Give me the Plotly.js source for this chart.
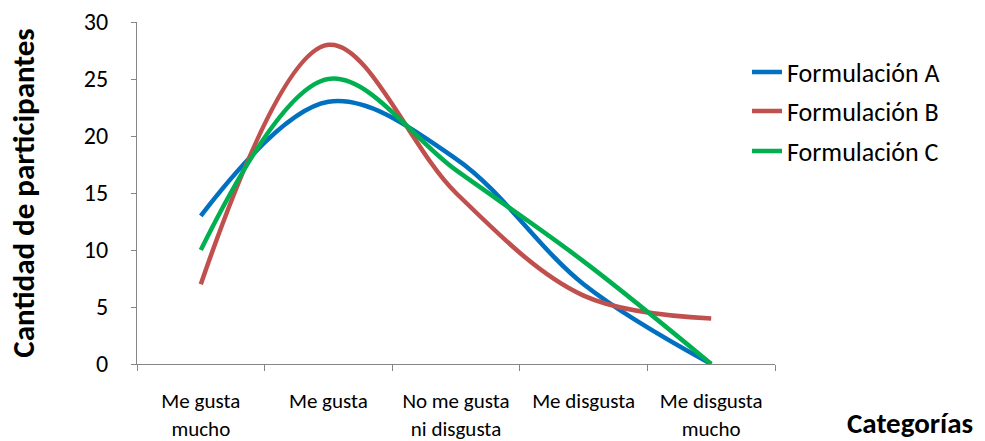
<!DOCTYPE html>
<html>
<head>
<meta charset="utf-8">
<script src="https://cdn.plot.ly/plotly-3.0.1.min.js"></script>
<style>html,body{margin:0;padding:0;background:#fff;}#chart{width:985px;height:441px;}</style>
</head>
<body>
<div id="chart"></div>
<script>
const categories = ["Me gusta<br>mucho", "Me gusta", "No me gusta<br>ni disgusta", "Me disgusta", "Me disgusta<br>mucho"];
const formulacionA = [13, 23, 18, 7, 0];
const formulacionB = [7, 28, 15, 6, 4];
const formulacionC = [10, 25, 17, 9, 0];
const seriesNames = ["Formulación A", "Formulación B", "Formulación C"];
const yTicks = [0, 5, 10, 15, 20, 25, 30];

const colors = ["#0070C0", "#C0504D", "#00B050"];
const font = "Carlito, 'Liberation Sans Narrow', 'Open Sans', sans-serif";
const seriesData = [formulacionA, formulacionB, formulacionC];
const legendIds = ["legend", "legend2", "legend3"];

const traces = seriesData.map((vals, i) => ({
  type: "scatter",
  mode: "lines",
  x: categories,
  y: vals,
  name: seriesNames[i],
  legend: legendIds[i],
  line: {color: colors[i], width: 4.5, shape: "spline", smoothing: 1}
}));

const legendTops = [72, 111, 151];
const legendBase = {
  xanchor: "left", yanchor: "middle",
  bgcolor: "rgba(0,0,0,0)",
  font: {family: font, size: 26, color: "#000"},
  itemwidth: 30
};
const layout = {
  width: 985, height: 441,
  margin: {l: 137, r: 210, t: 22, b: 77},
  paper_bgcolor: "#fff", plot_bgcolor: "#fff",
  showlegend: true,
  xaxis: {
    type: "category",
    range: [-0.5, 4.5],
    showgrid: false, zeroline: false,
    showline: true, linecolor: "#868686", linewidth: 1,
    ticks: "outside", tickson: "boundaries", ticklen: 6, tickcolor: "#868686",
    tickfont: {family: font, size: 21, color: "#000"},
    ticklabelstandoff: 18,
    tickangle: 0
  },
  yaxis: {
    range: [0, 30],
    tickvals: yTicks,
    showgrid: false, zeroline: false,
    showline: true, linecolor: "#868686", linewidth: 1,
    ticks: "outside", ticklen: 5, tickcolor: "#868686",
    tickfont: {family: font, size: 24, color: "#000"},
    ticklabelstandoff: 18,
    title: {text: "<b>Cantidad de participantes</b>", font: {family: font, size: 31, color: "#000"}, standoff: 40}
  },
  annotations: [{
    text: "<b>Categorías</b>", xref: "paper", yref: "paper",
    x: (975 - 137) / 638, y: -(423 - 364) / 342,
    xanchor: "right", yanchor: "middle", showarrow: false,
    font: {family: font, size: 29, color: "#000"}
  }]
};
legendIds.forEach((id, i) => {
  layout[id] = Object.assign({}, legendBase, {
    x: (747 - 137) / 638,
    y: (364 - legendTops[i]) / 342
  });
});

Plotly.newPlot("chart", traces, layout, {displayModeBar: false, staticPlot: true});
</script>
</body>
</html>
